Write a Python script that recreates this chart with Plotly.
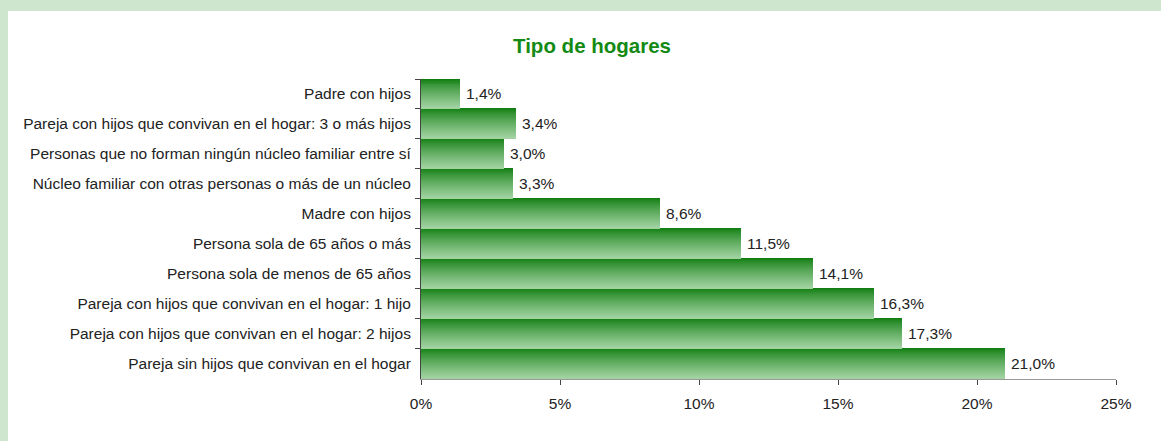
import plotly.graph_objects as go

categories = [
    "Padre con hijos",
    "Pareja con hijos que convivan en el hogar: 3 o más hijos",
    "Personas que no forman ningún núcleo familiar entre sí",
    "Núcleo familiar con otras personas o más de un núcleo",
    "Madre con hijos",
    "Persona sola de 65 años o más",
    "Persona sola de menos de 65 años",
    "Pareja con hijos que convivan en el hogar: 1 hijo",
    "Pareja con hijos que convivan en el hogar: 2 hijos",
    "Pareja sin hijos que convivan en el hogar",
]
values = [1.4, 3.4, 3.0, 3.3, 8.6, 11.5, 14.1, 16.3, 17.3, 21.0]
labels = [f"{v:.1f}%".replace(".", ",") for v in values]
xticks = [0, 5, 10, 15, 20, 25]
xticklabels = ["0%", "5%", "10%", "15%", "20%", "25%"]

W, H = 1161, 441
ML, MR, MT, MB = 421, 45, 79, 62
FONT = "Liberation Sans, Arial, sans-serif"
FS = 15.5

fig = go.Figure()

# gradient via stacked thin slices (dark top -> light bottom)
N = 30
c_top = (16, 125, 16)
c_bot = (160, 210, 160)
for i in range(N):
    t = i / (N - 1)
    t2 = t ** 0.8
    col = tuple(int(round(c_top[k] + (c_bot[k] - c_top[k]) * t2)) for k in range(3))
    fig.add_trace(go.Bar(
        x=values, y=categories, orientation="h",
        width=1.0 / N + 0.01, offset=-0.5 + i / N,
        marker=dict(color=f"rgb{col}", line=dict(width=0)),
        showlegend=False, hoverinfo="skip",
    ))

for v, c, lab in zip(values, categories, labels):
    fig.add_annotation(x=v, y=c, text=lab, showarrow=False,
                       xanchor="left", yanchor="middle", xshift=4,
                       font=dict(family=FONT, size=FS, color="#222222"))

x0p = (8 - ML) / (W - ML - MR)
y1p = 1 + (MT - 11) / (H - MT - MB)
y0p = -(MB + 5) / (H - MT - MB)
x1p = 1 + (MR + 5) / (W - ML - MR)
fig.add_shape(type="rect", xref="paper", yref="paper",
              x0=x0p, x1=x1p, y0=y0p, y1=y1p,
              fillcolor="white", line=dict(width=0), layer="below")

fig.update_layout(
    width=W, height=H,
    margin=dict(l=ML, r=MR, t=MT, b=MB),
    paper_bgcolor="#cde6cd",
    plot_bgcolor="rgba(0,0,0,0)",
    barmode="overlay",
    bargap=0,
    title=dict(text="<b>Tipo de hogares</b>", x=592 / W, xanchor="center",
               y=1 - 46 / H, yanchor="middle",
               font=dict(family=FONT, size=20.5, color="#138a13")),
    font=dict(family=FONT, size=FS, color="#222222"),
    xaxis=dict(range=[0, 25], tickvals=xticks, ticktext=xticklabels,
               showgrid=False, zeroline=False, showline=True, linecolor="#9a9a9a",
               linewidth=1, ticks="outside", ticklen=5, tickcolor="#444444",
               ticklabelstandoff=5,
               tickfont=dict(family=FONT, size=FS, color="#222222"), fixedrange=True),
    yaxis=dict(autorange="reversed", showgrid=False, showline=True,
               linecolor="#444444", linewidth=1, ticks="outside", ticklen=5,
               tickcolor="#444444", tickson="boundaries",
               ticklabelstandoff=6,
               tickfont=dict(family=FONT, size=FS, color="#222222"),
               fixedrange=True),
)

fig.write_html("out.html", config={"displayModeBar": False},
               post_script="document.body.style.margin='0';")
